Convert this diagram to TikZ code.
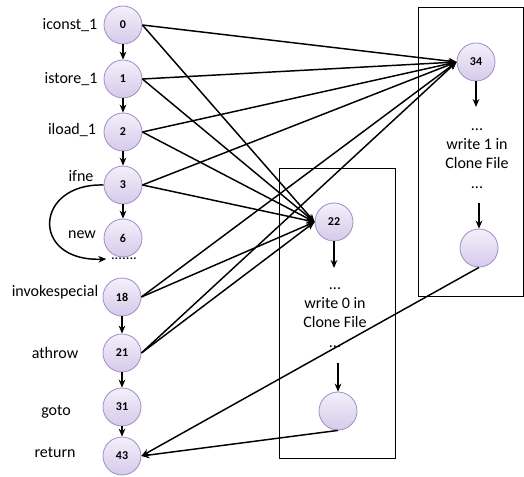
\documentclass[tikz,border=0pt]{standalone}
\usepackage{fontspec}
\setmainfont{Carlito}
\usetikzlibrary{arrows.meta}
\definecolor{ntop}{RGB}{243,240,250}
\definecolor{nbot}{RGB}{214,202,234}
\definecolor{nline}{RGB}{160,140,200}
\begin{document}
\begin{tikzpicture}[x=0.75pt,y=-0.75pt,
  st/.style={circle, minimum size=28.5pt, inner sep=0pt, draw=nline, line width=0.6pt,
    top color=ntop, bottom color=nbot, font=\bfseries\fontsize{9}{10}\selectfont},
  lbl/.style={font=\fontsize{12}{14}\selectfont},
  txt/.style={font=\fontsize{12}{14.4}\selectfont, align=center},
  edge/.style={line width=1.1pt, -{Stealth[length=6pt,width=5pt]}},
  box/.style={draw, line width=0.6pt}]
\useasboundingbox (0,0) rectangle (524,477);
% boxes
\draw[box] (418,7) rectangle (523,296);
\draw[box] (279,168) rectangle (395,458);
% left column
\node[st] (n0) at (123,25) {0};
\node[st] (n1) at (123,79) {1};
\node[st] (n2) at (123,132) {2};
\node[st] (n3) at (123,185) {3};
\node[st] (n6) at (123,238) {6};
\node[font=\fontsize{11}{12}\selectfont] (dots) at (124,259) {.......};
\node[st] (n18) at (122,297) {18};
\node[st] (n21) at (122,353) {21};
\node[st] (n31) at (122,407) {31};
\node[st] (n43) at (122,456) {43};
% labels
\node[lbl] (l0) at (70,25) {iconst\_1};
\node[lbl] (l1) at (71,79) {istore\_1};
\node[lbl] (l2) at (72,130) {iload\_1};
\node[lbl] (l3) at (81,176) {ifne};
\node[lbl] (l6) at (82,235) {new};
\node[lbl] (l18) at (55,292) {invokespecial};
\node[lbl] (l21) at (55,353) {athrow};
\node[lbl] (l31) at (56,412) {goto};
\node[lbl] (l43) at (55,452) {return};
% right nodes
\node[st] (n34) at (476,62) {34};
\node[st] (e34) at (479,248) {};
\node[st] (n22) at (334,222) {22};
\node[st] (e22) at (338,411) {};
\coordinate (a34) at (476,107);
\coordinate (b34) at (479,203);
\coordinate (a22) at (334,268);
\coordinate (b22) at (338,363);
\node[txt, anchor=north] (t34) at (477,124) {...\\write 1 in\\Clone File\\...};
\node[txt, anchor=north] (t22) at (335,283) {...\\write 0 in\\Clone File\\...};
% vertical arrows
\draw[edge] (n0) -- (n1);
\draw[edge] (n1) -- (n2);
\draw[edge] (n2) -- (n3);
\draw[edge] (n3) -- (n6);
\draw[edge] (n18) -- (n21);
\draw[edge] (n21) -- (n31);
\draw[edge] (n31) -- (n43);
\draw[edge] (n34) -- (a34);
\draw[edge] (b34) -- (e34);
\draw[edge] (n22) -- (a22);
\draw[edge] (b22) -- (e22);
% loop
\draw[line width=1.1pt, -{Stealth[length=6pt,width=5pt]}] (n3.west) .. controls (34,183) and (30,262) .. (dots.west);
% fan-in edges
\foreach \s in {n0,n1,n2,n3,n18,n21} {
  \draw[edge] (\s.east) -- (n34.west);
  \draw[edge] (\s.east) -- (n22.west);
}
\draw[edge] (e34.south) -- (n43.east);
\draw[edge] (e22.south) -- (n43.east);
\end{tikzpicture}
\end{document}
